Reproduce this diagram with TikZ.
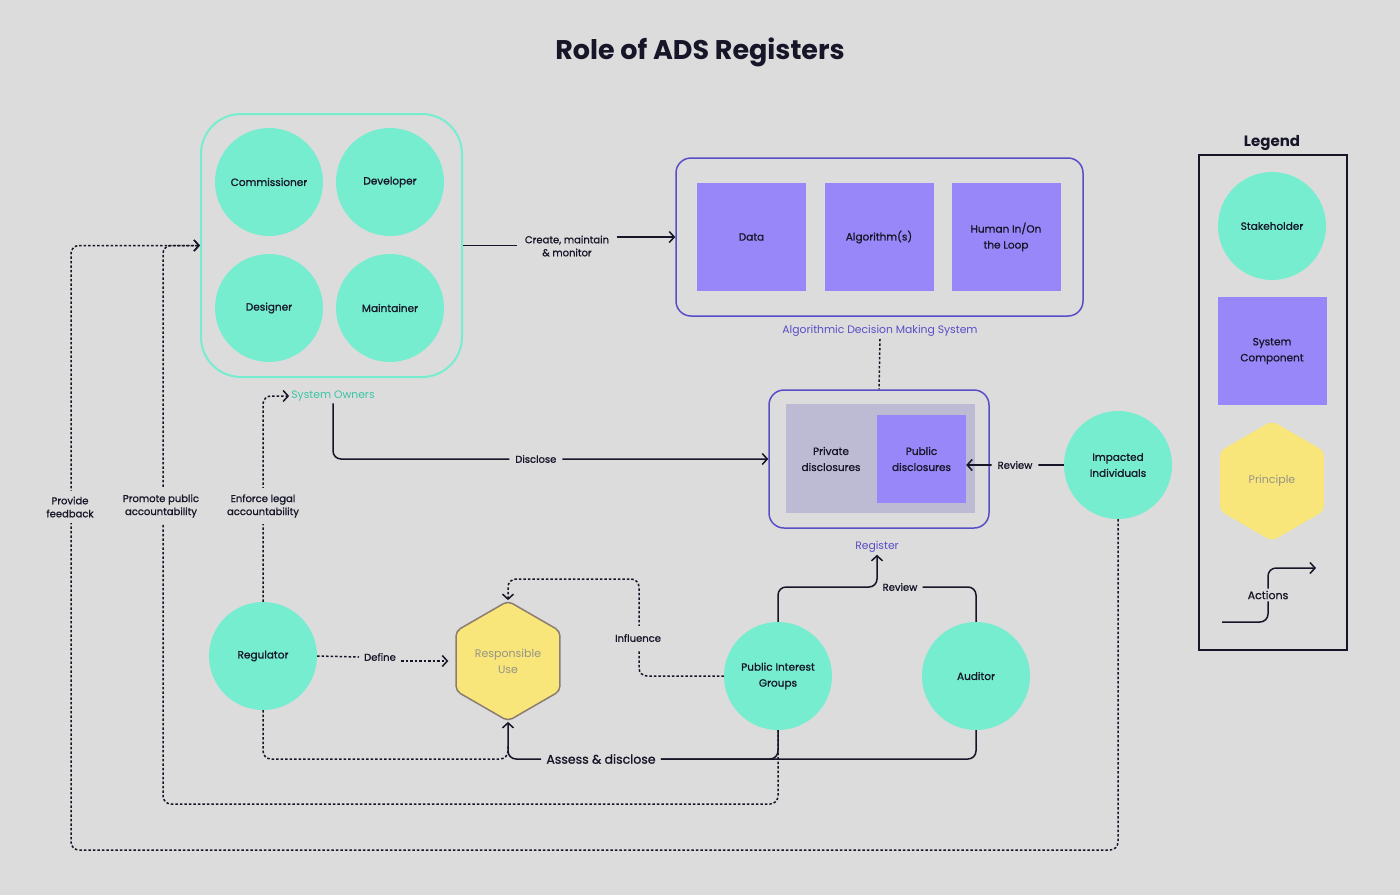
\documentclass[tikz,border=0pt]{standalone}
\usepackage{fontspec}
\setmainfont{Poppins}
\newfontfamily\medf{Poppins}[FakeBold=1.0]
\usetikzlibrary{arrows.meta,shapes.geometric}
\definecolor{bgc}{RGB}{220,220,220}
\definecolor{stakec}{RGB}{118,237,207}
\definecolor{compc}{RGB}{151,135,248}
\definecolor{princc}{RGB}{248,230,122}
\definecolor{inkc}{RGB}{22,22,40}
\definecolor{purpc}{RGB}{88,78,200}
\definecolor{tealtxt}{RGB}{60,196,166}
\definecolor{privc}{RGB}{189,186,212}
\definecolor{hexedge}{RGB}{140,125,112}
\definecolor{hextxt}{RGB}{150,148,135}
\begin{document}
\begin{tikzpicture}[x=1pt,y=-1pt,
  lbl/.style={font=\medf\fontsize{10}{13}\selectfont, text=inkc, align=center, inner sep=2pt},
  collbl/.style={lbl, font=\fontsize{10.8}{13}\selectfont},
  bglbl/.style={lbl, fill=bgc, inner xsep=6pt},
  stake/.style={circle, fill=stakec, minimum size=108pt, inner sep=0pt, align=center, text=inkc, font=\medf\fontsize{10.5}{16}\selectfont},
  comp/.style={rectangle, fill=compc, minimum width=109pt, minimum height=108pt, inner sep=0pt, align=center, text=inkc, font=\medf\fontsize{10.5}{16}\selectfont},
  princ/.style={regular polygon, regular polygon sides=6, shape border rotate=30, minimum size=120pt, inner sep=0pt, fill=princc, rounded corners=5pt, align=center, text=hextxt, font=\fontsize{11}{16}\selectfont},
  act/.style={draw=inkc, line width=1.5pt, rounded corners=8pt},
  dotact/.style={act, dash pattern=on 2.5pt off 2pt},
  tip/.style={-{Straight Barb[length=5pt,width=11pt]}}
]
\fill[bgc] (0,0) rectangle (1400,895);
\useasboundingbox (0,0) rectangle (1400,895);

\node[font=\fontsize{27}{32}\selectfont\bfseries, text=inkc] (title) at (700,52) {Role of ADS Registers};

% System owners
\node[draw=stakec, line width=2pt, rounded corners=40pt, minimum width=261pt, minimum height=263pt] (so) at (331.5,245.5) {};
\node[stake] (comm) at (269,182) {Commissioner};
\node[stake] (dev) at (390,182) {Developer};
\node[stake] (des) at (269,308) {Designer};
\node[stake] (mai) at (390,308) {Maintainer};
\node[collbl, text=tealtxt] (sol) at (333,396) {System Owners};

% ADS
\node[draw=purpc, line width=1.5pt, rounded corners=15pt, minimum width=407pt, minimum height=158pt] (ads) at (879.5,237) {};
\node[comp] (data) at (751.5,237) {Data};
\node[comp] (algo) at (879,237) {Algorithm(s)};
\node[comp] (hum) at (1006,237) {Human In/On\\the Loop};
\node[collbl, text=purpc] (adsl) at (880,331) {Algorithmic Decision Making System};

% Register
\node[draw=purpc, line width=1.5pt, rounded corners=15pt, minimum width=220pt, minimum height=138pt] (reg) at (879,459) {};
\node[fill=privc, minimum width=189pt, minimum height=109pt, inner sep=0pt] (priv) at (880.5,458.5) {};
\node[lbl, font=\medf\fontsize{10.5}{16}\selectfont] (privt) at (831,459) {Private\\disclosures};
\node[comp, minimum width=89pt, minimum height=88pt] (pub) at (921.5,459) {Public\\disclosures};
\node[collbl, text=purpc] (regl) at (877,547) {Register};

% Stakeholders
\node[stake] (imp) at (1118,465) {Impacted\\Individuals};
\node[stake] (pig) at (778,676) {Public Interest\\Groups};
\node[stake] (aud) at (976,676) {Auditor};
\node[stake] (regu) at (263,656) {Regulator};
\node[princ, draw=hexedge, line width=1.5pt] (ru) at (508,661) {Responsible\\Use};

% coordinates
\coordinate (revy) at (778,587);
\coordinate (ajoin) at (508,745);
\coordinate (inflpt) at (639,579);
\coordinate (pb1) at (163,804);
\coordinate (fb1) at (71,850);

% labels for connectors
\node[lbl, inner xsep=8pt] (crl) at (567,246) {Create, maintain\\\& monitor};
\node[lbl, inner xsep=5pt] (revl) at (900,587) {Review};
\node[lbl, font=\medf\fontsize{12.5}{15}\selectfont, inner xsep=5pt] (asl) at (601,759) {Assess \& disclose};
\node[lbl, inner xsep=5pt] (defl) at (380,657) {Define};

% create
\draw[act] (so.east) -- (crl.west |- so.east);
\draw[act,tip] (crl.east |- ads.west) -- (ads.west);
% ADS to register
\draw[dotact] (adsl.south) -- (reg.north);
% disclose
\draw[act,tip] (sol.south) |- (reg.west) node[bglbl, pos=0.733] {Disclose};
% impacted review
\draw[act,tip] (imp.west) -- (imp.west -| pub.east) node[bglbl, midway] {Review};

% feedback and promote (dotted, drawn first)
\draw[dotact,tip] (imp.south) |- (fb1) |- (so.west);
\draw[dotact,tip] (pig.south) |- (pb1) |- (so.west);
\node[bglbl, inner ysep=6pt] (fbl) at (70,507) {Provide\\feedback};
\node[bglbl, inner ysep=6pt] (ppl) at (161,506) {Promote public\\accountability};

% enforce
\draw[dotact,tip] (regu.north) |- (sol.west);
\node[bglbl, inner ysep=6pt] (efl) at (263,506) {Enforce legal\\accountability};

% review from PIG and auditor
\draw[act,tip] (pig.north) -- (revy) -| (regl.south);
\draw[act] (aud.north) |- (revl.east);

% assess & disclose
\draw[dotact] (regu.south) -- (regu.south |- asl.west) -| (ajoin);
\draw[act] (aud.south) |- (asl.east);
\draw[act] (pig.south) |- (asl.east);
\draw[act,tip] (asl.west) -| (ru.south);

% define
\draw[dotact] (regu.east) -- (defl.west);
\draw[dotact,tip,shorten >=7pt] (defl.east |- ru.west) -- (ru.west);

% influence
\draw[dotact,tip] (pig.west) -| (inflpt) -| (ru.north);
\node[bglbl, inner ysep=8pt] (infl) at (638,638) {Influence};

% Legend
\node[font=\fontsize{15}{18}\selectfont\bfseries, text=inkc] (legt) at (1272,143) {Legend};
\node[draw=inkc, line width=1.5pt, minimum width=148pt, minimum height=495pt] (legbox) at (1273,402.5) {};
\node[stake] (lstake) at (1272,226) {Stakeholder};
\node[comp] (lcomp) at (1272,351) {System\\Component};
\node[princ] (lprinc) at (1272,481) {Principle};
\node[lbl, font=\medf\fontsize{11}{13}\selectfont] (actl) at (1268,595) {Actions};
\coordinate (legarr) at (1316,568);
\coordinate (legstart) at (1222,622);
\draw[act,tip] (actl.north) |- (legarr);
\draw[act] (legstart) -| (actl.south);
\end{tikzpicture}
\end{document}
